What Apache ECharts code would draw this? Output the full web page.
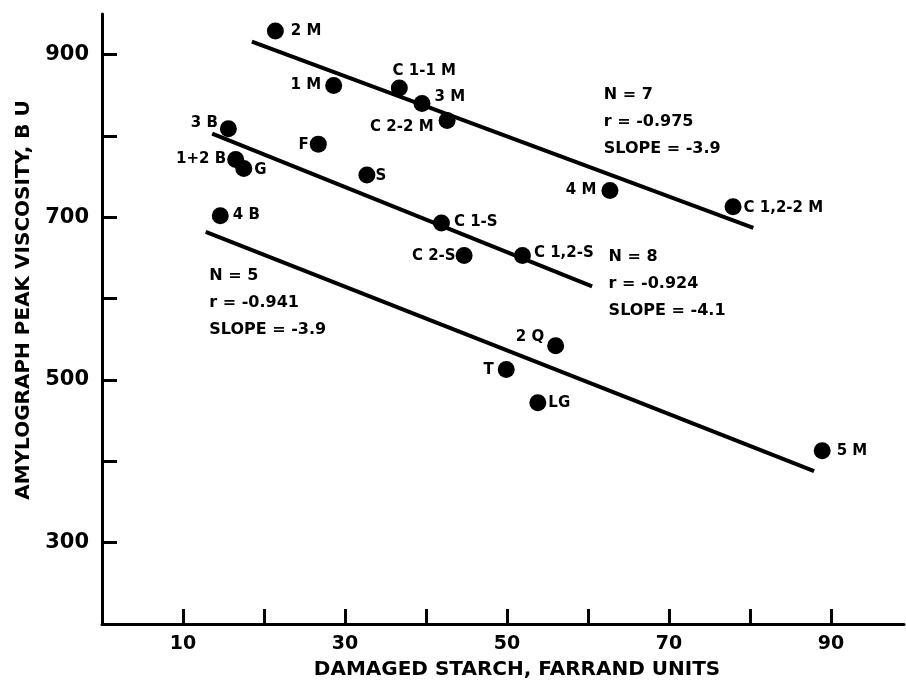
<!DOCTYPE html>
<html>
<head>
<meta charset="utf-8">
<script src="https://cdn.jsdelivr.net/npm/echarts@6/dist/echarts.min.js"></script>
<style>html,body{margin:0;padding:0;background:#fff}#c{width:906px;height:682px}</style>
</head>
<body>
<div id="c"></div>
<script>
// ---- data ----
const milledNames = ['2 M','1 M','C 1-1 M','3 M','C 2-2 M','4 M','C 1,2-2 M'];
const milledX = [21.4, 28.6, 36.7, 39.5, 42.6, 62.7, 77.9];
const milledY = [929, 862, 859, 840, 819, 733, 713];

const sGroupNames = ['3 B','1+2 B','G','F','S','C 1-S','C 2-S','C 1,2-S'];
const sGroupX = [15.6, 16.5, 17.5, 26.7, 32.7, 41.9, 44.7, 51.9];
const sGroupY = [809, 771, 760, 790, 752, 693, 653, 653];

const otherNames = ['4 B','2 Q','T','LG','5 M'];
const otherX = [14.6, 56.0, 49.9, 53.8, 88.9];
const otherY = [702, 542, 513, 472, 413];

const fit1X = [18.5, 80.4];  const fit1Y = [916, 687];
const fit2X = [13.6, 60.5];  const fit2Y = [803, 615];
const fit3X = [12.8, 87.9];  const fit3Y = [682, 388];

const stats1 = ['N = 7', 'r = -0.975', 'SLOPE = -3.9'];
const stats2 = ['N = 8', 'r = -0.924', 'SLOPE = -4.1'];
const stats3 = ['N = 5', 'r = -0.941', 'SLOPE = -3.9'];
const statsAnchorX = [62.0, 62.6, 13.3];
const statsAnchorY = [867, 667, 644];

const xTicks = [10, 20, 30, 40, 50, 60, 70, 80, 90];
const xTickLabels = [10, 30, 50, 70, 90];
const yTicks = [300, 400, 500, 600, 700, 800, 900];
const yTickLabels = [300, 500, 700, 900];

// ---- label placement (style only) ----
const labelPlace = {
  '2 M': ['right', 7, [0, 0]],
  '1 M': ['left', 4, [0, 0]],
  'C 1-1 M': ['top', 1, [25, 0]],
  '3 M': ['right', 4, [0, -6]],
  'C 2-2 M': ['left', 5, [0, 7]],
  '4 M': ['left', 5, [0, 0]],
  'C 1,2-2 M': ['right', 2, [0, 1]],
  '3 B': ['left', 2, [0, -6]],
  '1+2 B': ['left', 1, [0, 0]],
  'G': ['right', 2, [0, 2]],
  'F': ['left', 1, [0, 1]],
  'S': ['right', 0, [0, 1]],
  'C 1-S': ['right', 4, [0, -1]],
  'C 2-S': ['left', 0, [0, 1]],
  'C 1,2-S': ['right', 3, [0, -2]],
  '4 B': ['right', 4, [0, -1]],
  '2 Q': ['left', 3, [0, -9]],
  'T': ['left', 4, [0, 1]],
  'LG': ['right', 2, [0, 0]],
  '5 M': ['right', 6, [0, 0]]
};

const FONT = 'DejaVu Sans';
function pts(names, xs, ys) {
  return names.map((n, i) => {
    const p = labelPlace[n];
    return {
      name: n, value: [xs[i], ys[i]],
      label: { show: true, position: p[0], distance: p[1], offset: p[2] }
    };
  });
}
function seg(xs, ys) { return xs.map((x, i) => [x, ys[i]]); }

const pointStyle = {
  type: 'scatter', symbol: 'circle', symbolSize: 17,
  itemStyle: { color: '#000', opacity: 1 },
  label: { formatter: '{b}', color: '#000', fontFamily: FONT, fontWeight: 'bold', fontSize: 15 },
  emphasis: { disabled: true },
  z: 5
};
const lineStyle = {
  type: 'line', symbol: 'none', showSymbol: false,
  lineStyle: { color: '#000', width: 4, cap: 'butt', opacity: 1 }, z: 4,
  emphasis: { disabled: true }
};

const chart = echarts.init(document.getElementById('c'), null, { renderer: 'canvas' });
chart.setOption({
  animation: false,
  backgroundColor: '#fff',
  grid: { left: 102, right: 2, top: 14, bottom: 58, containLabel: false, outerBoundsMode: 'none' },
  xAxis: {
    type: 'value', min: 0, max: 99, interval: 10,
    name: 'DAMAGED STARCH, FARRAND UNITS', nameLocation: 'middle', nameGap: 36,
    nameTextStyle: { fontFamily: FONT, fontWeight: 'bold', fontSize: 20, color: '#000', padding: [0, 0, 0, 28] },
    axisLine: { show: true, lineStyle: { color: '#000', width: 3 } },
    axisTick: { show: true, inside: true, length: 15, lineStyle: { color: '#000', width: 3 }, customValues: xTicks },
    axisLabel: { show: true, margin: 11, color: '#000', fontFamily: FONT, fontWeight: 'bold', fontSize: 19, customValues: xTickLabels },
    splitLine: { show: false }
  },
  yAxis: {
    type: 'value', min: 200, max: 950, interval: 100, offset: 3,
    name: 'AMYLOGRAPH PEAK VISCOSITY, B U', nameLocation: 'middle', nameGap: 64, nameRotate: 90,
    nameTextStyle: { fontFamily: FONT, fontWeight: 'bold', fontSize: 20, color: '#000', padding: [0, 0, 0, 38] },
    axisLine: { show: true, lineStyle: { color: '#000', width: 3 } },
    axisTick: { show: true, inside: true, length: 15, lineStyle: { color: '#000', width: 3 }, customValues: yTicks },
    axisLabel: { show: true, margin: 10, color: '#000', fontFamily: FONT, fontWeight: 'bold', fontSize: 21, customValues: yTickLabels },
    splitLine: { show: false }
  },
  series: [
    Object.assign({ name: 'Fit milled', data: seg(fit1X, fit1Y) }, lineStyle),
    Object.assign({ name: 'Fit S group', data: seg(fit2X, fit2Y) }, lineStyle),
    Object.assign({ name: 'Fit others', data: seg(fit3X, fit3Y) }, lineStyle),
    Object.assign({}, pointStyle, { name: 'Milled', data: pts(milledNames, milledX, milledY) }),
    Object.assign({}, pointStyle, { name: 'S group', data: pts(sGroupNames, sGroupX, sGroupY) }),
    Object.assign({}, pointStyle, { name: 'Others', data: pts(otherNames, otherX, otherY) }),
    {
      type: 'scatter', name: 'Stats', symbol: 'circle', symbolSize: 1, z: 6,
      itemStyle: { color: 'rgba(0,0,0,0)', opacity: 1 },
      emphasis: { disabled: true },
      data: [stats1, stats2, stats3].map((s, i) => ({
        value: [statsAnchorX[i], statsAnchorY[i]],
        label: {
          show: true, position: [0, 0], align: 'left', verticalAlign: 'top',
          formatter: s.join('\n'), lineHeight: 27,
          color: '#000', opacity: 1, fontFamily: FONT, fontWeight: 'bold', fontSize: 16
        }
      }))
    }
  ]
});
</script>
</body>
</html>
